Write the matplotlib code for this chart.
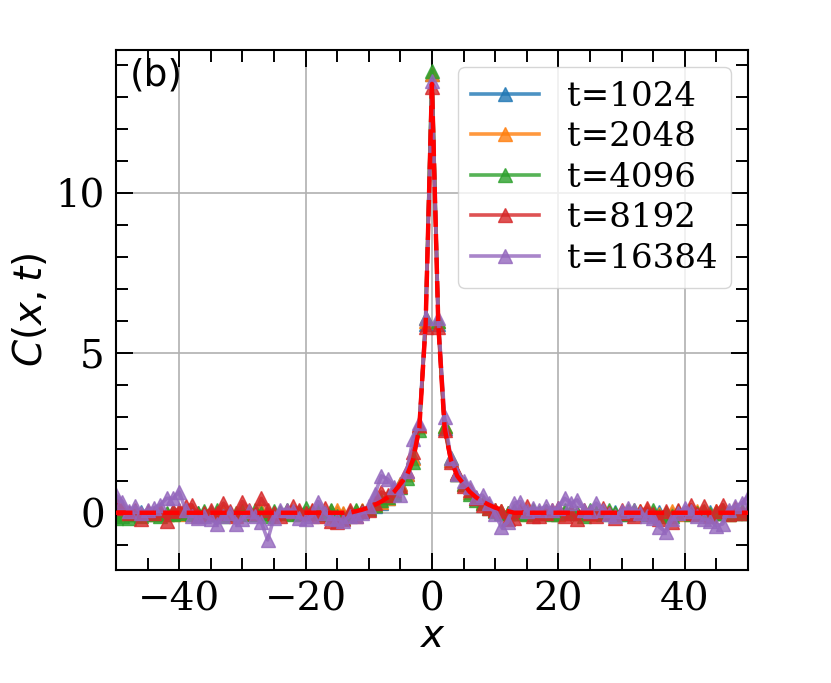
import matplotlib
matplotlib.use("Agg")
import matplotlib.pyplot as plt
from matplotlib.ticker import MultipleLocator

plt.rcParams['font.family'] = ['DejaVu Serif']
plt.rcParams['mathtext.fontset'] = 'dejavusans'

x = list(range(-50, 51))
labels = ["t=1024", "t=2048", "t=4096", "t=8192", "t=16384"]
colors = ["#1f77b4", "#ff7f0e", "#2ca02c", "#d62728", "#9467bd"]

c1024 = [-0.05, 0.05, 0.0, -0.05, 0.02, 0.0, -0.03, 0.0, -0.05, 0.05,
         0.0, -0.02, 0.05, 0.0, -0.05, 0.03, 0.0, 0.02, -0.02, 0.0,
         0.02, 0.0, -0.03, 0.05, 0.0, -0.02, 0.03, 0.0, -0.02, 0.02,
         0.0, 0.03, -0.02, 0.0, 0.05, 0.0, -0.03, 0.02,
         0.02, 0.06, 0.12, 0.2, 0.3, 0.45, 0.65, 0.9, 1.2, 1.75, 2.7, 5.9, 13.7,
         5.9, 2.65, 1.65, 1.2, 0.9, 0.65, 0.45, 0.3, 0.2, 0.1, 0.05, 0.0,
         -0.02, 0.0, 0.03, 0.0, -0.02, 0.02, 0.0, -0.03, 0.0, 0.02,
         0.0, -0.02, 0.03, 0.0, -0.02, 0.0, 0.02, 0.0, -0.03, 0.0,
         0.02, 0.0, -0.02, 0.03, 0.0, -0.05, 0.0, 0.02, 0.0, -0.02,
         0.0, 0.03, 0.0, -0.02, 0.0, 0.02, 0.0, 0.05]

c2048 = [-0.05, 0.0, -0.05, 0.05, -0.05, 0.0, -0.05, 0.0, -0.05, 0.0,
         -0.05, 0.0, 0.05, -0.05, 0.0, -0.05, 0.0, 0.05, -0.05, 0.0,
         0.05, 0.0, -0.05, 0.1, 0.0, -0.05, 0.0, 0.05, 0.0, -0.05,
         0.0, 0.05, 0.0, -0.05, 0.05, 0.1, 0.0, -0.05,
         0.05, 0.1, 0.15, 0.25, 0.35, 0.45, 0.65, 0.9, 1.2, 1.7, 2.7, 6.0, 13.7,
         6.0, 2.7, 1.65, 1.2, 0.9, 0.65, 0.45, 0.35, 0.2, 0.1, 0.05, 0.0,
         0.05, 0.0, -0.05, 0.05, 0.0, 0.05, 0.0, -0.05, 0.0, 0.05,
         0.0, 0.05, -0.05, 0.0, 0.05, 0.0, -0.05, 0.0, 0.05, 0.0,
         0.05, 0.1, 0.0, -0.05, 0.0, 0.05, 0.0, -0.05, 0.0, 0.05,
         0.0, -0.05, 0.05, 0.0, -0.05, 0.0, 0.05, 0.0]

c4096 = [-0.15, -0.1, -0.15, -0.05, -0.1, 0.0, -0.05, -0.1, 0.0, -0.05,
         0.0, 0.05, -0.05, 0.0, 0.05, -0.05, 0.1, -0.1, 0.0, -0.05,
         0.05, -0.05, 0.1, 0.0, -0.1, 0.05, 0.0, 0.1, -0.05, 0.0,
         0.15, 0.0, 0.05, -0.05, 0.1, -0.1, -0.15, 0.0,
         0.1, 0.05, 0.15, 0.25, 0.4, 0.5, 0.6, 0.8, 1.1, 1.6, 2.6, 6.1, 13.8,
         6.0, 2.7, 1.7, 1.2, 0.9, 0.6, 0.4, 0.3, 0.15, 0.05, 0.0, 0.0,
         0.05, 0.0, -0.05, 0.1, 0.0, 0.05, -0.05, 0.0, 0.1, 0.05,
         0.0, -0.1, 0.1, 0.0, -0.05, 0.1, 0.0, -0.05, 0.05, 0.1,
         0.0, -0.05, 0.1, -0.1, 0.0, -0.1, 0.05, 0.0, -0.05, 0.0,
         0.05, -0.05, 0.0, 0.1, -0.05, 0.0, 0.05, 0.0]

c8192 = [0.3, 0.15, 0.0, 0.1, -0.2, 0.05, 0.0, 0.1, -0.25, 0.05,
         0.1, 0.2, 0.25, -0.1, 0.0, 0.1, 0.0, 0.3, 0.05, -0.1,
         0.35, 0.1, 0.0, 0.45, 0.1, 0.0, -0.1, 0.05, 0.2, 0.1,
         0.0, 0.1, -0.1, 0.15, -0.25, -0.3, -0.2, 0.1,
         -0.1, 0.05, 0.1, 0.3, 0.65, 0.55, 0.7, 0.85, 1.3, 1.9, 2.75, 5.8, 13.3,
         5.8, 2.6, 1.6, 1.25, 0.85, 0.7, 0.45, 0.25, 0.15, 0.1, 0.05, -0.2,
         -0.15, 0.1, 0.2, -0.1, -0.1, 0.0, 0.1, 0.15, -0.1, 0.0,
         -0.2, 0.1, 0.0, -0.1, 0.15, 0.0, -0.15, 0.1, 0.0, -0.1,
         0.05, 0.15, -0.05, -0.2, 0.05, -0.3, 0.1, 0.0, 0.25, -0.05,
         0.2, -0.1, 0.05, 0.25, -0.05, 0.15, 0.0, 0.1]

c16384 = [0.55, 0.35, 0.05, 0.2, 0.0, 0.1, 0.15, 0.25, 0.45, 0.45,
          0.65, 0.1, -0.1, -0.15, -0.1, -0.2, -0.35, -0.1, 0.0, -0.35,
          -0.2, 0.05, -0.1, -0.3, -0.85, -0.15, 0.1, 0.1, 0.05, -0.15,
          -0.2, -0.1, 0.35, 0.0, -0.15, -0.2, -0.25, -0.1,
          -0.1, 0.0, 0.2, 0.6, 1.15, 1.05, 0.8, 0.55, 1.3, 2.3, 2.8, 6.1, 13.5,
          6.1, 3.0, 1.7, 1.2, 1.0, 0.8, 0.5, 0.55, 0.3, -0.05, -0.45, -0.3,
          0.3, 0.35, 0.05, 0.15, 0.1, 0.2, 0.1, 0.15, 0.45, 0.3,
          0.4, 0.1, 0.05, 0.3, 0.1, -0.05, -0.1, 0.05, 0.15, 0.1,
          0.0, -0.1, -0.15, -0.45, -0.6, -0.2, 0.0, 0.15, 0.05, -0.1,
          -0.2, -0.25, -0.4, -0.35, 0.1, 0.2, 0.3, 0.5]

fit_x = [-50, -13] + list(range(-12, 13)) + [13, 50]
fit_y = [0.0, 0.0,
         0.05, 0.1, 0.16, 0.25, 0.35, 0.48, 0.65, 0.9, 1.15, 1.65, 2.65, 5.9, 13.4,
         5.9, 2.65, 1.65, 1.15, 0.9, 0.65, 0.48, 0.35, 0.25, 0.16, 0.1, 0.05,
         0.0, 0.0]

series = [c1024, c2048, c4096, c8192, c16384]

fig = plt.figure(figsize=(8.31, 6.83), dpi=100)
ax = fig.add_axes([0.1396, 0.1654, 0.7604, 0.7614])

for ys, lab, col in zip(series, labels, colors):
    ax.plot(x, ys, marker='^', color=col, alpha=0.8, lw=2.6, ms=9.5, label=lab)
ax.plot(fit_x, fit_y, color='red', ls='--', lw=3.2, zorder=5)

ax.set_xlim(-50, 50)
ax.set_ylim(-1.79, 14.46)
ax.xaxis.set_major_locator(MultipleLocator(20))
ax.xaxis.set_minor_locator(MultipleLocator(5))
ax.yaxis.set_major_locator(MultipleLocator(5))
ax.yaxis.set_minor_locator(MultipleLocator(1))
ax.tick_params(which='both', direction='in', top=True, right=True, labelsize=28, width=1.4)
ax.tick_params(which='major', length=12, pad=8)
ax.tick_params(which='minor', length=8.5)
ax.grid(True, which='major', color='#b0b0b0', lw=1.2)
for sp in ax.spines.values():
    sp.set_linewidth(1.5)

ax.set_xlabel('$x$', fontsize=28, labelpad=0)
ax.set_ylabel('$C(x,t)$', fontsize=28)
ax.text(0.022, 0.985, '(b)', transform=ax.transAxes, fontsize=27,
        family='DejaVu Sans', va='top', ha='left')
ax.legend(loc='upper right', fontsize=24.5, handlelength=2.0, labelspacing=0.25)

fig.savefig('out.png', dpi=100)
